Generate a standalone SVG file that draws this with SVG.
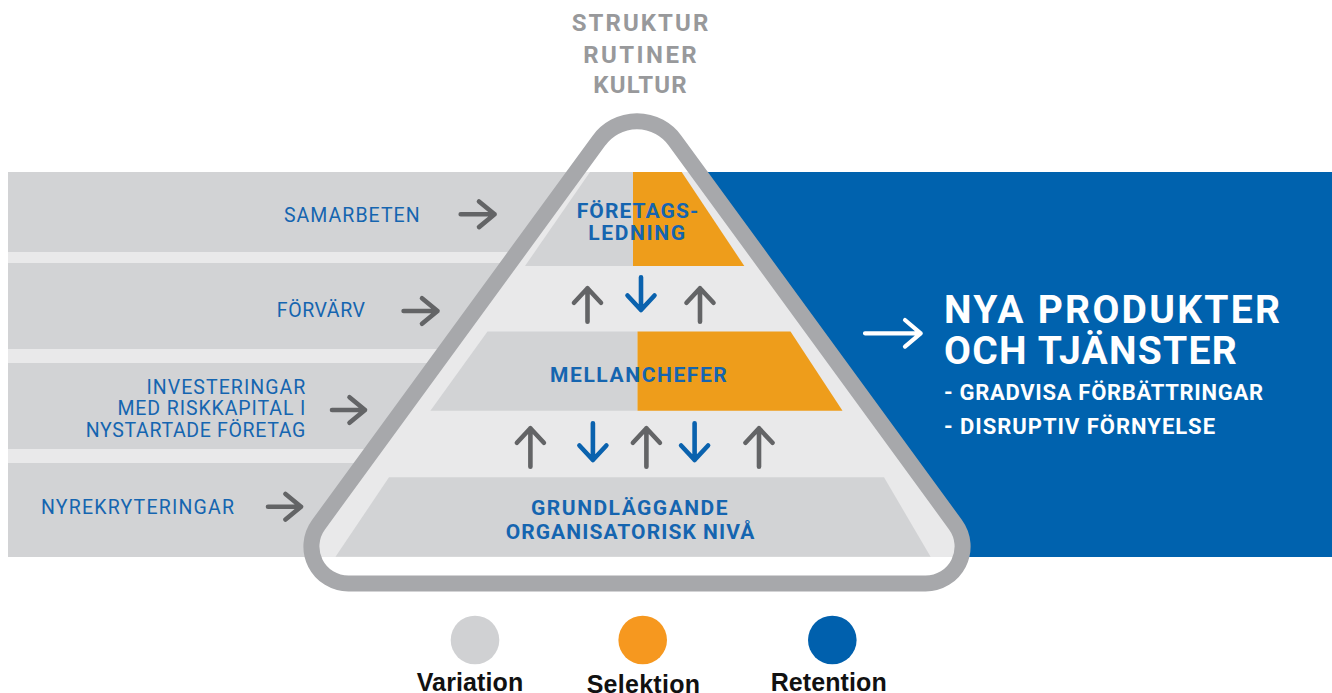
<svg xmlns="http://www.w3.org/2000/svg" width="1332" height="693" viewBox="0 0 1332 693">
<style>
.band{fill:#d2d3d5}
.light{fill:#e9e9ea}
.orange{fill:#ee9d1b}
.lbl{font-family:Roboto,"Liberation Sans",sans-serif;font-size:19.5px;fill:#1565b0;text-anchor:end}
.plbl{font-family:Roboto,"Liberation Sans",sans-serif;font-size:21px;font-weight:bold;fill:#1565b0;text-anchor:middle}
.title{font-family:Roboto,"Liberation Sans",sans-serif;font-size:24px;font-weight:bold;fill:#98999b;text-anchor:middle}
.big{font-family:Roboto,"Liberation Sans",sans-serif;font-size:39px;font-weight:bold;fill:#ffffff}
.sub{font-family:Roboto,"Liberation Sans",sans-serif;font-size:22px;font-weight:bold;fill:#ffffff}
.leg{font-family:"Liberation Sans",Arial,sans-serif;font-size:25px;font-weight:bold;fill:#111111;text-anchor:middle}
.ag{fill:none;stroke:#636466;stroke-width:4.6;stroke-linecap:round;stroke-linejoin:round}
.ab{fill:none;stroke:#0a62ae;stroke-width:4.6;stroke-linecap:round;stroke-linejoin:round}
.aw{fill:none;stroke:#ffffff;stroke-width:4.2;stroke-linecap:round;stroke-linejoin:round}
</style>
<rect width="1332" height="693" fill="#ffffff"/>
<g id="background">
<rect class="light" x="8" y="172" width="1324" height="385"/>
<polygon fill="#0062ae" points="698,172 1332,172 1332,557 961,557 962.6,546.5 955.5,524.7"/>
</g>
<g id="left-bands">
<polygon class="band" points="8,172 576,172 517.6,252 8,252"/>
<polygon class="band" points="8,263 509.6,263 446.9,349 8,349"/>
<polygon class="band" points="8,363 436.6,363 373.8,449 8,449"/>
<polygon class="band" points="8,463 363.6,463 318.5,524.7 311.4,546.5 312.9,557 8,557"/>
</g>
<g id="node-foretagsledning">
<polygon class="band" points="590,172 633,172 633,266 525,266"/>
<polygon class="orange" points="633,172 681.7,172 744.3,266 633,266"/>
<text class="plbl" x="637.5" y="218.3" textLength="121.6" lengthAdjust="spacing">FÖRETAGS-</text>
<text class="plbl" x="636.7" y="240" textLength="96.7" lengthAdjust="spacing">LEDNING</text>
</g>
<g id="node-mellanchefer">
<polygon class="band" points="487.5,331.5 637.5,331.5 637.5,410.7 430.4,410.7"/>
<polygon class="orange" points="637.5,331.5 790.5,331.5 842.5,410.7 637.5,410.7"/>
<text class="plbl" x="638.4" y="381.7" textLength="176.8" lengthAdjust="spacing">MELLANCHEFER</text>
</g>
<g id="node-grundlaggande">
<polygon class="band" points="389,477.3 884,477.3 930.6,556.7 335.5,556.7"/>
<text class="plbl" x="629.3" y="515" textLength="196.5" lengthAdjust="spacing">GRUNDLÄGGANDE</text>
<text class="plbl" x="630" y="539" textLength="248.7" lengthAdjust="spacing">ORGANISATORISK NIVÅ</text>
</g>
<g id="pyramid-outline">
<path d="M599.1,140.4 A47,47 0 0 1 674.9,140.4 L955.5,524.7 A37,37 0 0 1 925.6,583.5 L348.4,583.5 A37,37 0 0 1 318.5,524.7 Z" fill="none" stroke="#a7a8ab" stroke-width="16" stroke-linejoin="round"/>
</g>
<g id="title">
<text class="title" x="640" y="30.7" textLength="136.6" lengthAdjust="spacing">STRUKTUR</text>
<text class="title" x="640" y="62.5" textLength="113.4" lengthAdjust="spacing">RUTINER</text>
<text class="title" x="640" y="93" textLength="93.4" lengthAdjust="spacing">KULTUR</text>
</g>
<g id="node-samarbeten">
<text class="lbl" x="419.6" y="221.5" textLength="135.6" lengthAdjust="spacing">SAMARBETEN</text>
</g>
<g id="node-forvarv">
<text class="lbl" x="365" y="317.2" textLength="88.2" lengthAdjust="spacing">FÖRVÄRV</text>
</g>
<g id="node-investeringar">
<text class="lbl" x="305.4" y="393.7" textLength="159" lengthAdjust="spacing">INVESTERINGAR</text>
<text class="lbl" x="305.4" y="415.3" textLength="188" lengthAdjust="spacing">MED RISKKAPITAL I</text>
<text class="lbl" x="305.4" y="436.5" textLength="219.7" lengthAdjust="spacing">NYSTARTADE FÖRETAG</text>
</g>
<g id="node-nyrekryteringar">
<text class="lbl" x="234" y="513.7" textLength="193" lengthAdjust="spacing">NYREKRYTERINGAR</text>
</g>
<g id="node-output">
<text class="big" x="944" y="323.3" textLength="336" lengthAdjust="spacing">NYA PRODUKTER</text>
<text class="big" x="944" y="364" textLength="292.7" lengthAdjust="spacing">OCH TJÄNSTER</text>
<text class="sub" x="944" y="400" textLength="319" lengthAdjust="spacing">- GRADVISA FÖRBÄTTRINGAR</text>
<text class="sub" x="944" y="434" textLength="271" lengthAdjust="spacing">- DISRUPTIV FÖRNYELSE</text>
</g>
<g id="connectors">
<path class="ag" d="M460.7,214.3 H494.6 M479,201.5 L494.6,214.3 L479,227.1"/>
<path class="ag" d="M403.6,311 H437.5 M422,298.2 L437.5,311 L422,323.8"/>
<path class="ag" d="M332,410 H365 M349.5,397.2 L365,410 L349.5,422.8"/>
<path class="ag" d="M268,506.7 H301 M285.5,493.9 L301,506.7 L285.5,519.5"/>
<path class="ag" d="M587.5,321.7 V288.3 M574,302.8 L587.5,288.3 L601,302.8"/>
<path class="ab" d="M641,277.3 V310 M627.5,295.5 L641,310 L654.5,295.5"/>
<path class="ag" d="M700,321.7 V288.3 M686.5,302.8 L700,288.3 L713.5,302.8"/>
<path class="ag" d="M530.4,466.7 V428.3 M516.9,442.8 L530.4,428.3 L543.9,442.8"/>
<path class="ab" d="M592.9,423.3 V460 M579.4,445.5 L592.9,460 L606.4,445.5"/>
<path class="ag" d="M646.4,466.7 V428.3 M632.9,442.8 L646.4,428.3 L659.9,442.8"/>
<path class="ab" d="M694.6,423.3 V460 M681.1,445.5 L694.6,460 L708.1,445.5"/>
<path class="ag" d="M759,466.7 V428.3 M745.5,442.8 L759,428.3 L772.5,442.8"/>
<path class="aw" d="M865,333.3 H920.7 M905,320 L920.7,333.3 L905,346.6"/>
</g>
<g id="legend">
<circle cx="475" cy="640" r="24.3" fill="#d0d1d3"/>
<circle cx="642.7" cy="640" r="24.3" fill="#f6981f"/>
<circle cx="832.3" cy="640" r="24.3" fill="#0060ad"/>
<text class="leg" x="470" y="690.5" textLength="106.6" lengthAdjust="spacing">Variation</text>
<text class="leg" x="643.3" y="692.5" textLength="113.3" lengthAdjust="spacing">Selektion</text>
<text class="leg" x="828.7" y="690.5" textLength="116" lengthAdjust="spacing">Retention</text>
</g>
</svg>
